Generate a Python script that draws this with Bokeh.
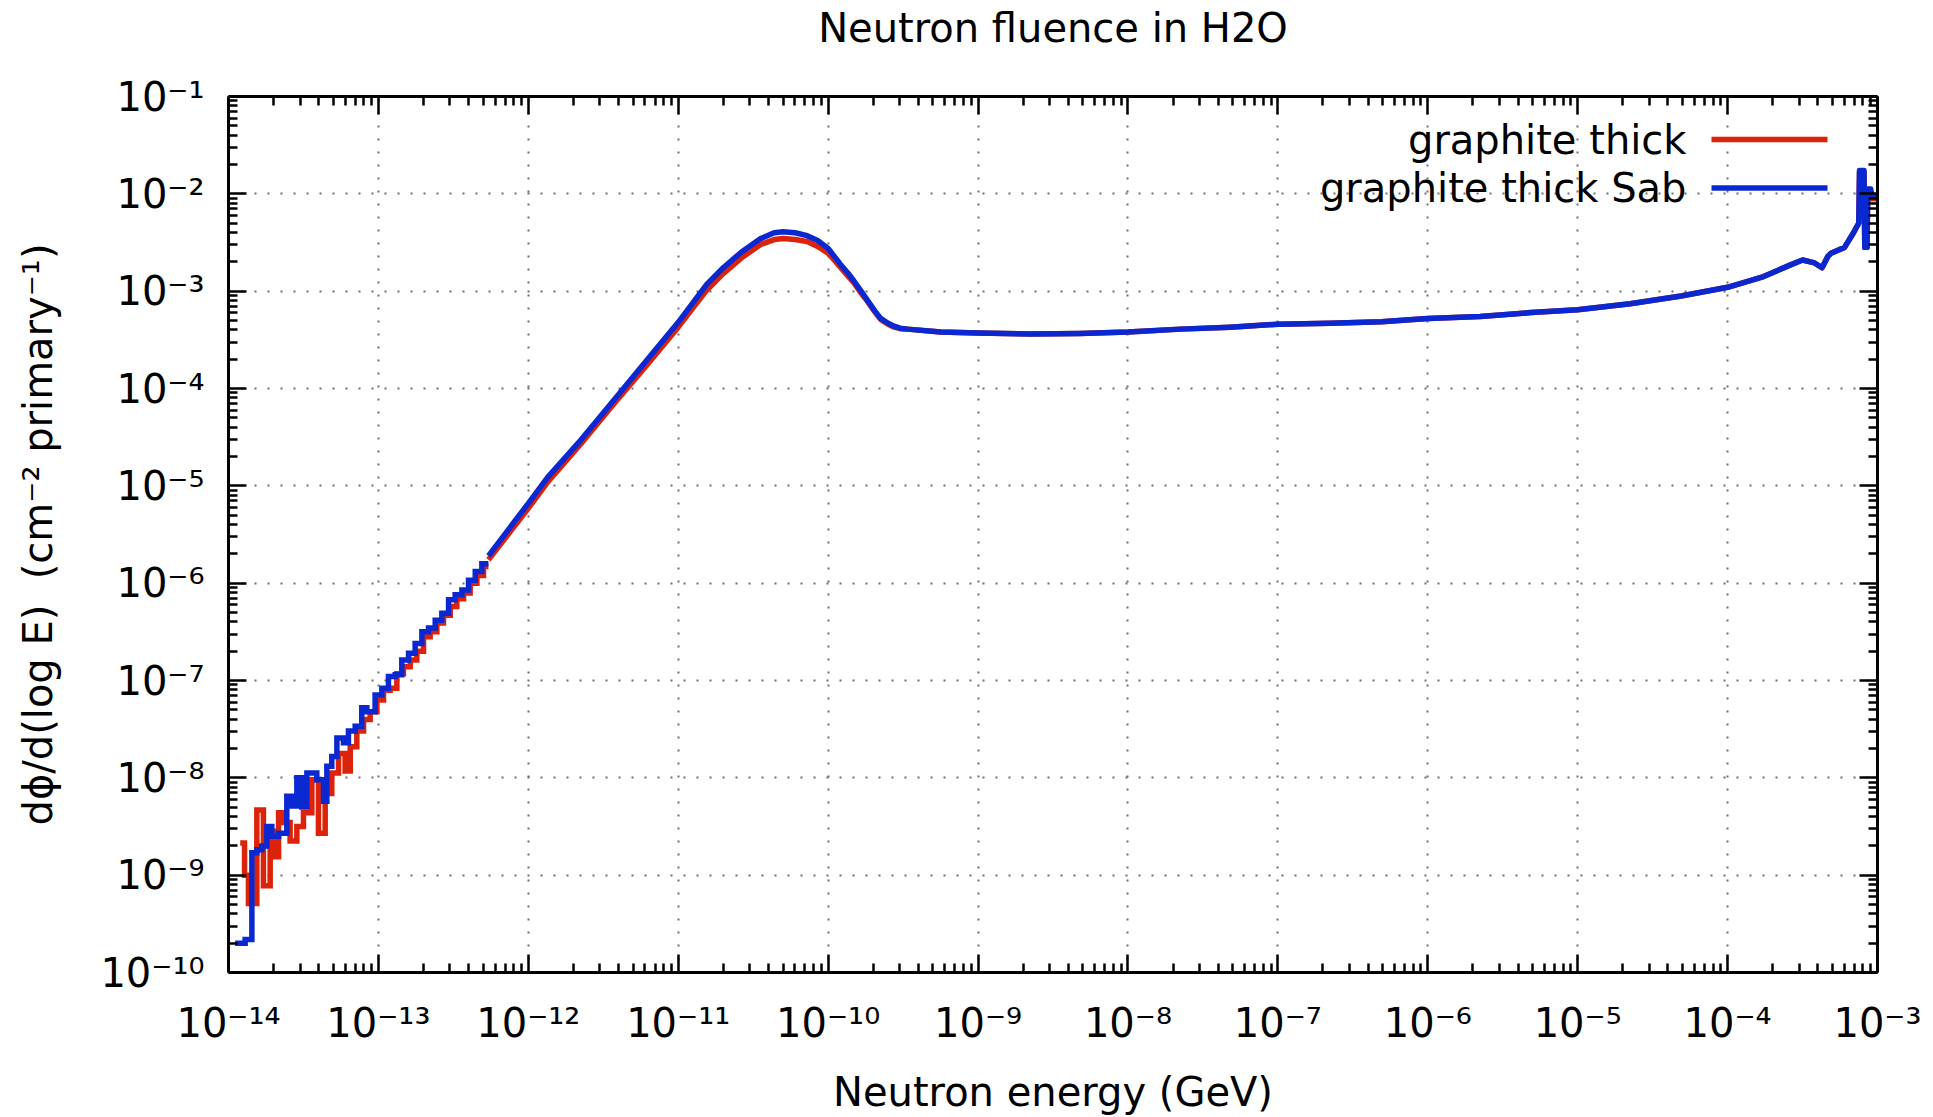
import math
import numpy as np
from bokeh.plotting import figure
from bokeh.models import LogAxis, FixedTicker, CustomJSTickFormatter, Label, Arrow
from bokeh.embed import file_html
from bokeh.resources import INLINE

# ---------------- data (log10 E [GeV], log10 dphi/dlogE) ----------------
# low-energy noisy part, histogram bins: left edges (+ final right edge) and values
red_low_edges = [-13.922, -13.893, -13.867, -13.811, -13.767, -13.722, -13.689, -13.666,
                 -13.633, -13.589, -13.544, -13.500, -13.444, -13.400, -13.355, -13.311,
                 -13.266, -13.222, -13.188, -13.144, -13.099, -13.055, -13.010, -12.966,
                 -12.922, -12.877, -12.833, -12.788, -12.744, -12.699, -12.655, -12.610,
                 -12.566, -12.521, -12.477, -12.432, -12.388, -12.343, -12.299, -12.266]
red_low_vals = [-8.67, -9.00, -9.29, -8.33, -9.11, -8.55, -8.81, -8.36,
                -8.46, -8.65, -8.50, -8.36, -8.02, -8.57, -8.16, -7.95,
                -7.75, -7.93, -7.68, -7.52, -7.40, -7.32, -7.20, -7.10,
                -7.08, -6.93, -6.86, -6.79, -6.70, -6.55, -6.50, -6.41,
                -6.33, -6.24, -6.16, -6.10, -6.00, -5.92, -5.83]

blue_low_edges = [-13.956, -13.889, -13.844, -13.811, -13.778, -13.744, -13.711, -13.666,
                  -13.611, -13.578, -13.544, -13.511, -13.477, -13.411, -13.366, -13.344,
                  -13.311, -13.277, -13.233, -13.200, -13.155, -13.111, -13.077, -13.022,
                  -12.977, -12.933, -12.888, -12.844, -12.799, -12.755, -12.710, -12.666,
                  -12.621, -12.577, -12.532, -12.488, -12.443, -12.399, -12.354, -12.310,
                  -12.266]
blue_low_vals = [-9.70, -9.66, -8.77, -8.74, -8.70, -8.50, -8.60, -8.57,
                 -8.19, -8.29, -8.00, -8.30, -7.95, -8.02, -8.24, -7.88,
                 -7.78, -7.59, -7.64, -7.52, -7.47, -7.28, -7.32, -7.15,
                 -7.08, -6.96, -6.94, -6.79, -6.72, -6.62, -6.50, -6.46,
                 -6.38, -6.31, -6.17, -6.12, -6.07, -5.97, -5.88, -5.80]

# smooth part
red_logE = [-12.266, -12.00, -11.87, -11.65, -11.43, -11.21, -11.00, -10.81, -10.70,
            -10.58, -10.45, -10.36, -10.30, -10.22, -10.14, -10.07, -10.00, -9.96,
            -9.92, -9.87, -9.83, -9.78, -9.74, -9.69, -9.65, -9.60, -9.56, -9.52,
            -9.47, -9.25, -9.00, -8.65, -8.32, -8.00, -7.65, -7.32, -7.00, -6.65,
            -6.31, -6.00, -5.65, -5.31, -5.00, -4.65, -4.31, -4.00, -3.76, -3.58,
            -3.50, -3.42, -3.37, -3.33, -3.31, -3.22, -3.16, -3.125, -3.12, -3.09,
            -3.085, -3.07, -3.065, -3.045, -3.04, -3.00]
red_logy = [-5.76, -5.23, -4.96, -4.57, -4.16, -3.76, -3.37, -2.99, -2.82,
            -2.66, -2.52, -2.47, -2.46, -2.47, -2.49, -2.54, -2.61, -2.68,
            -2.75, -2.84, -2.91, -3.02, -3.10, -3.21, -3.29, -3.34, -3.37, -3.385,
            -3.39, -3.42, -3.43, -3.44, -3.435, -3.42, -3.39, -3.37, -3.34, -3.33,
            -3.315, -3.28, -3.26, -3.22, -3.19, -3.13, -3.05, -2.96, -2.85, -2.73,
            -2.68, -2.71, -2.76, -2.64, -2.61, -2.55, -2.40, -2.30, -1.78, -1.78,
            -2.55, -2.55, -1.97, -1.97, -2.05, -2.05]

blue_logE = [-12.266, -12.00, -11.87, -11.65, -11.43, -11.21, -11.00, -10.81, -10.70,
             -10.58, -10.45, -10.36, -10.30, -10.22, -10.14, -10.07, -10.00, -9.96,
             -9.92, -9.87, -9.83, -9.78, -9.74, -9.69, -9.65, -9.60, -9.56, -9.52,
             -9.47, -9.25, -9.00, -8.65, -8.32, -8.00, -7.65, -7.32, -7.00, -6.65,
             -6.31, -6.00, -5.65, -5.31, -5.00, -4.65, -4.31, -4.00, -3.76, -3.58,
             -3.50, -3.42, -3.37, -3.33, -3.31, -3.22, -3.16, -3.125, -3.12, -3.09,
             -3.085, -3.07, -3.065, -3.045, -3.04, -3.00]
blue_logy = [-5.72, -5.18, -4.91, -4.53, -4.12, -3.71, -3.32, -2.93, -2.76,
             -2.60, -2.46, -2.40, -2.39, -2.40, -2.43, -2.48, -2.56, -2.64,
             -2.72, -2.81, -2.89, -3.00, -3.09, -3.20, -3.28, -3.33, -3.36, -3.38,
             -3.39, -3.42, -3.43, -3.44, -3.435, -3.42, -3.39, -3.37, -3.34, -3.33,
             -3.315, -3.28, -3.26, -3.22, -3.19, -3.13, -3.05, -2.96, -2.85, -2.73,
             -2.68, -2.71, -2.76, -2.64, -2.61, -2.55, -2.40, -2.30, -1.76, -1.76,
             -2.55, -2.55, -1.95, -1.95, -2.02, -2.02]

series_names = ["graphite thick", "graphite thick Sab"]
chart_title = "Neutron fluence in H2O"
x_tick_exp = list(range(-14, -2))
y_tick_exp = list(range(-10, 0))

RED = "#dc230a"
BLUE = "#0a28d2"
FONT = "DejaVu Sans"
LW = 5.5

# ---------------- figure ----------------
W, H = 1933, 1117
FL, FR, FT, FB = 228, 1877, 96, 973
XMIN, XMAX = 1e-14, 1e-3
YMIN, YMAX = 1e-10, 1e-1

p = figure(width=W, height=H, x_axis_type="log", y_axis_type="log",
           x_range=(XMIN, XMAX), y_range=(YMIN, YMAX),
           output_backend="svg", toolbar_location=None, title_location=None,
           min_border_left=FL, min_border_right=W - FR,
           min_border_top=FT, min_border_bottom=H - FB)
p.outline_line_color = None
p.background_fill_color = "white"
p.border_fill_color = "white"

xt = FixedTicker(ticks=[10.0 ** k for k in x_tick_exp],
                 minor_ticks=[m * 10.0 ** k for k in x_tick_exp for m in range(2, 10)])
yt = FixedTicker(ticks=[10.0 ** k for k in y_tick_exp],
                 minor_ticks=[m * 10.0 ** k for k in y_tick_exp for m in range(2, 10)])

SUP_JS = """
const sup = {"-": "\u207b", "0": "\u2070", "1": "\u00b9", "2": "\u00b2", "3": "\u00b3",
             "4": "\u2074", "5": "\u2075", "6": "\u2076", "7": "\u2077", "8": "\u2078",
             "9": "\u2079"};
const e = Math.round(Math.log10(tick));
return "10" + String(e).split("").map(c => sup[c]).join("");
"""


def style_axis(ax, ticker, labels):
    ax.ticker = ticker
    ax.formatter = CustomJSTickFormatter(code=SUP_JS if labels else "return ''")
    ax.axis_line_width = 3
    ax.axis_line_color = "black"
    ax.major_tick_in = 18
    ax.major_tick_out = 0
    ax.minor_tick_in = 9
    ax.minor_tick_out = 0
    ax.major_tick_line_width = 2.5
    ax.minor_tick_line_width = 2.5
    ax.major_tick_line_color = "black"
    ax.minor_tick_line_color = "black"
    ax.major_label_text_font = FONT
    ax.major_label_text_font_size = "40px"
    ax.major_label_text_color = "black"
    ax.axis_label_text_font = FONT
    ax.axis_label_text_font_size = "40px"
    ax.axis_label_text_font_style = "normal"
    ax.axis_label_text_color = "black"


style_axis(p.xaxis[0], xt, True)
style_axis(p.yaxis[0], yt, True)
p.xaxis[0].axis_label = "Neutron energy (GeV)"
p.xaxis[0].major_label_standoff = 27
p.xaxis[0].axis_label_standoff = 20
p.yaxis[0].axis_label = "dϕ/d(log E)\u00a0\u00a0(cm⁻² primary⁻¹)"
p.yaxis[0].major_label_standoff = 24
p.yaxis[0].axis_label_standoff = 36

# mirrored axes (gnuplot border); the top one carries the chart title
top_ax = LogAxis()
right_ax = LogAxis()
style_axis(top_ax, xt, False)
style_axis(right_ax, yt, False)
top_ax.major_label_standoff = 0
right_ax.major_label_standoff = 0
top_ax.major_label_text_font_size = "1px"
right_ax.major_label_text_font_size = "1px"
top_ax.axis_label = chart_title
top_ax.axis_label_standoff = 46
p.add_layout(top_ax, "above")
p.add_layout(right_ax, "right")

for g, t in ((p.xgrid[0], xt), (p.ygrid[0], yt)):
    g.ticker = t
    g.grid_line_color = "#6f6f6f"
    g.grid_line_width = 2
    g.grid_line_dash = "2 11"

# ---------------- data glyphs ----------------
def pw(a):
    return [10.0 ** v for v in a]

p.step(pw(red_low_edges), pw(red_low_vals + [red_low_vals[-1]]), mode="after",
       line_color=RED, line_width=LW, line_join="miter")
p.line(pw(red_logE), pw(red_logy), line_color=RED, line_width=LW, line_join="round")
p.step(pw(blue_low_edges), pw(blue_low_vals + [blue_low_vals[-1]]), mode="after",
       line_color=BLUE, line_width=LW, line_join="miter")
p.line(pw(blue_logE), pw(blue_logy), line_color=BLUE, line_width=LW, line_join="round")

# ---------------- key (gnuplot style: text then sample) ----------------
def px_to_x(px):
    return 10.0 ** (math.log10(XMIN) + (px - FL) * (math.log10(XMAX) - math.log10(XMIN)) / (FR - FL))


def px_to_y(py):
    return 10.0 ** (math.log10(YMAX) - (py - FT) * (math.log10(YMAX) - math.log10(YMIN)) / (FB - FT))


for name, col, row_y in ((series_names[0], RED, 139), (series_names[1], BLUE, 187.5)):
    p.add_layout(Label(x=XMAX, y=YMAX, x_offset=1686 - FR, y_offset=-(row_y - FT),
                       text=name, text_align="right", text_baseline="alphabetic",
                       text_font=FONT, text_font_size="40px", text_color="black"))
    p.add_layout(Arrow(end=None, x_start=px_to_x(1711), x_end=px_to_x(1827),
                       y_start=px_to_y(row_y), y_end=px_to_y(row_y),
                       line_color=col, line_width=LW))

open("out.html", "w").write(file_html(p, INLINE))
